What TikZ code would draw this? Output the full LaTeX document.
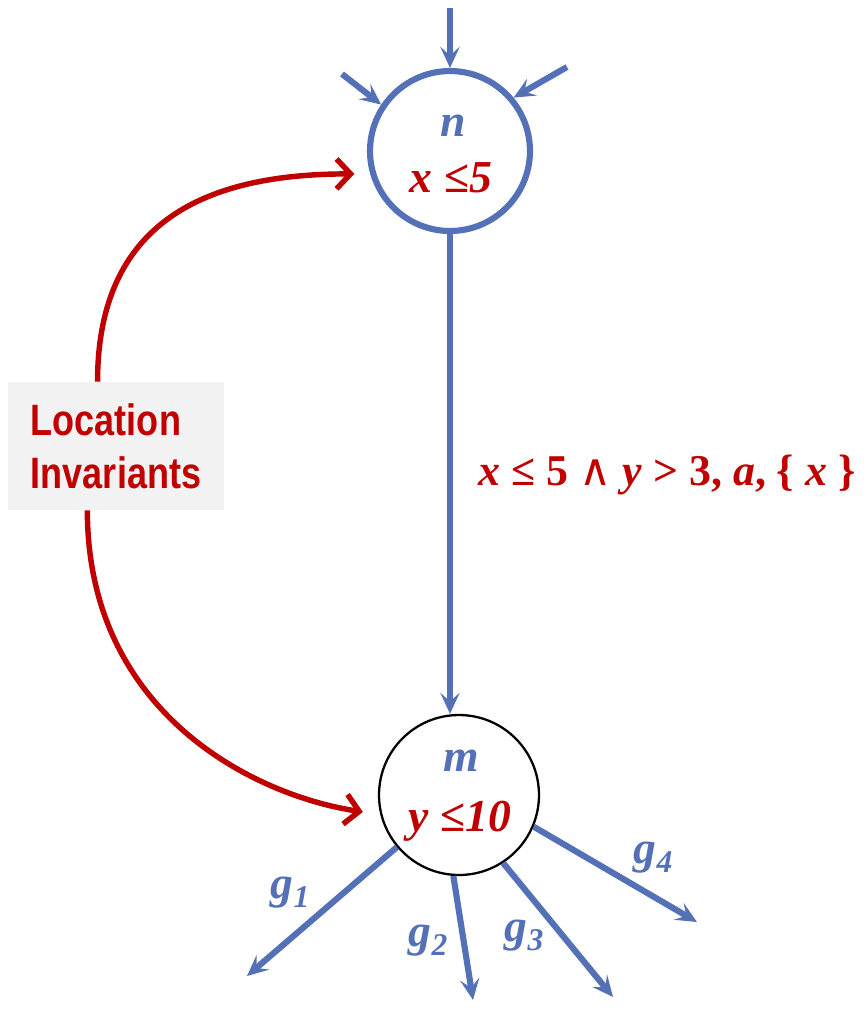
\documentclass[tikz,border=0pt]{standalone}
\usepackage{fontspec}
\setmainfont{Liberation Serif}
\newfontfamily\narrowsans[FakeStretch=0.82]{Liberation Sans}
\newfontfamily\symfont{DejaVu Serif}
\usetikzlibrary{arrows.meta}
\newcommand{\bv}[1]{\textbf{\textit{#1}}}
\newcommand{\gsub}[2]{\bv{#1}\raisebox{-0.4ex}{\fontsize{18}{18}\selectfont\bv{#2}}}
\begin{document}
\begin{tikzpicture}[x=0.02cm, y=-0.02cm, >={Stealth[length=12pt, width=11pt, inset=5pt]},
		state/.style={circle, minimum size=3.2cm, inner sep=0pt},
		flow/.style={->, line width=3.5pt, nodeblue},
		inv/.style={-{Straight Barb[length=8pt, width=17pt]}, line width=3.1pt, invred},
		txt/.style={font=\fontsize{26}{30}\selectfont, inner sep=0pt, anchor=base}]
	\definecolor{nodeblue}{RGB}{84,112,182}
	\definecolor{invred}{RGB}{192,0,0}
	\definecolor{boxgray}{RGB}{242,242,242}
	\useasboundingbox (0,0) rectangle (868,1015);
	\node[state, draw=nodeblue, line width=3.5pt] (n) at (450,151) {};
	\node[state, draw=black, line width=1.3pt] (m) at (459,795) {};
	\node[txt, nodeblue] (nname) at (453,136) {\bv{n}};
	\node[txt, invred] (ninv) at (451,192) {\bv{x} \textbf{≤}\bv{5}};
	\node[txt, nodeblue] (mname) at (461,771) {\bv{m}};
	\node[txt, invred] (minv) at (460,831) {\bv{y} \textbf{≤}\bv{10}};
	\coordinate (in1) at (450,8);
	\coordinate (in2) at (342,74);
	\coordinate (in3) at (567,67);
	\draw[flow] (in1) -- (n.north);
	\draw[flow] (in2) -- (n.146);
	\draw[flow] (in3) -- (n.40);
	\draw[flow] (n.south) -- (n.south |- m.north);
	\node[txt, invred, font=\fontsize{25}{30}\selectfont] (guard) at (667,485) {\bv{x} \textbf{≤} \textbf{5} {\symfont ∧} \bv{y} \textbf{>} \textbf{3,} \bv{a}\textbf{,} \textbf{\{} \bv{x} \textbf{\}}};
	\node[fill=boxgray, minimum width=4.32cm, minimum height=2.56cm, align=left, text=invred, font=\narrowsans\bfseries\fontsize{25}{30}\selectfont] (loc) at (116,446) {Location\\Invariants};
	\draw[inv, shorten >=9pt] (loc.106) .. controls +(0,-170) and +(-150,0) .. (n.196);
	\draw[inv, shorten >=10pt] (loc.246) .. controls +(0,200) and +(-130,-20) .. (m.194);
	\coordinate (out1) at (247,976);
	\coordinate (out2) at (473,1000);
	\coordinate (out3) at (613,997);
	\coordinate (out4) at (697,922);
	\draw[flow] (m.220) -- (out1);
	\draw[flow] (m.266) -- (out2);
	\draw[flow] (m.303) -- (out3);
	\draw[flow] (m.337) -- (out4);
	\node[txt, nodeblue, anchor=center] (g1) at (290,893) {\gsub{g}{1}};
	\node[txt, nodeblue, anchor=center] (g2) at (428,941) {\gsub{g}{2}};
	\node[txt, nodeblue, anchor=center] (g3) at (524,936) {\gsub{g}{3}};
	\node[txt, nodeblue, anchor=center] (g4) at (653,858) {\gsub{g}{4}};
\end{tikzpicture}
\end{document}
